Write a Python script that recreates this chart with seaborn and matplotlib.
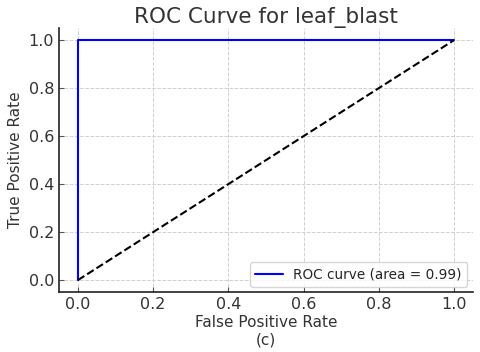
import matplotlib
matplotlib.use("Agg")
import matplotlib.pyplot as plt
import seaborn as sns
import numpy as np
import pandas as pd

# ROC points
fpr = [0.0, 0.0, 1.0]
tpr = [0.0, 1.0, 1.0]
diag_x = [0.0, 1.0]
diag_y = [0.0, 1.0]
roc_auc = 0.99

sns.set_style("ticks", {"axes.grid": True, "grid.linestyle": "--", "grid.color": "#d0d0d0",
                        "xtick.direction": "in", "ytick.direction": "in"})
plt.rcParams["font.family"] = ["DejaVu Sans"]

fig = plt.figure(figsize=(4.8, 3.52), dpi=100)
ax = fig.add_axes([0.123, 0.170, 0.862, 0.750])

sns.lineplot(x=fpr, y=tpr, sort=False, estimator=None, color="blue", lw=1.5,
             label="ROC curve (area = %0.2f)" % roc_auc, ax=ax)
sns.lineplot(x=diag_x, y=diag_y, sort=False, estimator=None, color="black", lw=1.5,
             linestyle="--", ax=ax)

ax.set_xlim(-0.05, 1.05)
ax.set_ylim(-0.05, 1.05)
ax.set_xticks(np.arange(0, 1.01, 0.2))
ax.set_yticks(np.arange(0, 1.01, 0.2))
ax.grid(True, linestyle="--", color="#d0d0d0", linewidth=0.7)
sns.despine(ax=ax)
for s in ["left", "bottom"]:
    ax.spines[s].set_color("#222222")
    ax.spines[s].set_linewidth(1.2)
ax.tick_params(labelsize=11.5, color="#555555", labelcolor="#333333")
ax.set_xlabel("False Positive Rate\n(c)", fontsize=11, color="#333333", labelpad=2)
ax.set_ylabel("True Positive Rate", fontsize=11, color="#333333")
ax.set_title("ROC Curve for leaf_blast", fontsize=15.5, color="#333333", pad=4)
ax.legend(loc="lower right", fontsize=9.8, handlelength=2.0, borderaxespad=0.4)

fig.savefig("out.png", dpi=100)
